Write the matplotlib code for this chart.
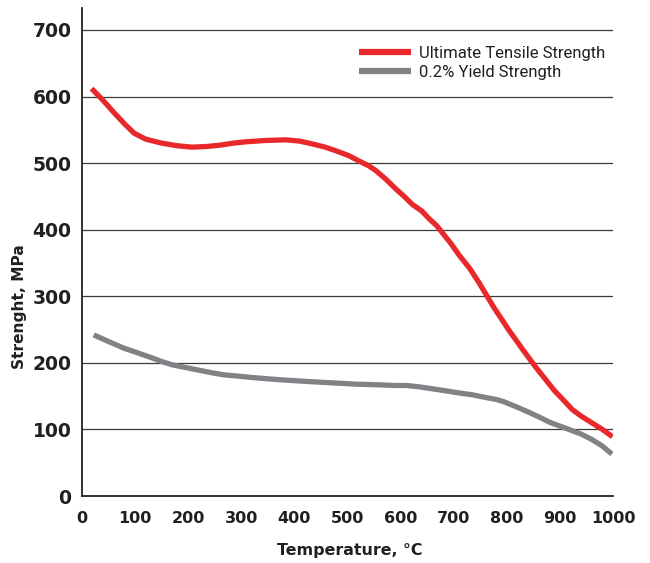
import matplotlib
matplotlib.use("Agg")
import matplotlib.pyplot as plt

# Data
uts_temp = [18, 40, 60, 80, 98, 120, 150, 180, 207, 235, 260, 285, 308, 345, 384, 410, 433, 458, 480, 503, 522, 540, 553, 572, 590, 608, 622, 640, 653, 668, 678, 695, 710, 730, 748, 775, 804, 830, 854, 875, 890, 908, 923, 940, 960, 980, 999]
uts_val = [612, 594, 576, 559, 545, 536, 530, 526, 524, 525, 527, 530, 532, 534, 535, 533, 529, 524, 518, 511, 503, 496, 489, 476, 462, 449, 438, 428, 417, 406, 396, 379, 362, 342, 320, 284, 249, 220, 194, 173, 158, 143, 130, 120, 110, 100, 89]

ys_temp = [22, 50, 79, 105, 130, 150, 170, 195, 220, 245, 267, 295, 320, 350, 384, 425, 470, 515, 559, 590, 611, 635, 660, 685, 708, 735, 760, 780, 793, 815, 838, 860, 880, 900, 917, 940, 960, 980, 998]
ys_val = [242, 232, 222, 215, 208, 202, 197, 193, 189, 185, 182, 180, 178, 176, 174, 172, 170, 168, 167, 166, 166, 164, 161, 158, 155, 152, 148, 145, 142, 135, 127, 119, 111, 105, 100, 93, 85, 75, 63]

x_ticks = [0, 100, 200, 300, 400, 500, 600, 700, 800, 900, 1000]
y_ticks = [0, 100, 200, 300, 400, 500, 600, 700]

RED = "#e8282a"
GREY = "#818285"
TXT = "#231f20"

fig = plt.figure(figsize=(6.5, 5.63), dpi=100)
ax = fig.add_axes([82/650, 1 - 496/563, (613-82)/650, (496-8)/563])

ax.set_xlim(0, 1000)
ax.set_ylim(0, 733)

for y in y_ticks[1:]:
    ax.axhline(y, color="#3a3a3a", lw=0.9, zorder=1)

ax.plot(uts_temp, uts_val, color=RED, lw=3.8, solid_capstyle="butt", solid_joinstyle="round",
        label="Ultimate Tensile Strength", zorder=3)
ax.plot(ys_temp, ys_val, color=GREY, lw=3.8, solid_capstyle="butt", solid_joinstyle="round",
        label="0.2% Yield Strength", zorder=3)

for s in ["top", "right"]:
    ax.spines[s].set_visible(False)
for s in ["left", "bottom"]:
    ax.spines[s].set_color("#222222")
    ax.spines[s].set_linewidth(1.3)

ax.set_xticks(x_ticks)
ax.set_yticks(y_ticks)
ax.tick_params(axis="both", length=0)
ax.tick_params(axis="y", pad=7.5)
ax.tick_params(axis="x", pad=11)
for lab in ax.get_yticklabels():
    lab.set_fontweight("bold")
    lab.set_fontsize(13.5)
    lab.set_color(TXT)
for lab in ax.get_xticklabels():
    lab.set_fontweight("bold")
    lab.set_fontsize(11.5)
    lab.set_color(TXT)

fig.text(350/650, 1 - 551/563, "Temperature, °C", ha="center", va="center",
         fontsize=11.4, fontweight="bold", color=TXT)
fig.text(20/650, 1 - 307/563, "Strenght, MPa", ha="center", va="center", rotation=90,
         fontsize=11.1, fontweight="bold", color=TXT)

leg = ax.legend(loc="upper left", bbox_to_anchor=(359/650, 1 - 46/563), bbox_transform=fig.transFigure,
                frameon=False, handlelength=3.1, handletextpad=0.5, labelspacing=0.22,
                borderpad=0, borderaxespad=0, prop={"family": "Roboto", "size": 12})
for t in leg.get_texts():
    t.set_color(TXT)
for h in leg.get_lines():
    h.set_linewidth(4.5)

fig.savefig("out.png", dpi=100)
